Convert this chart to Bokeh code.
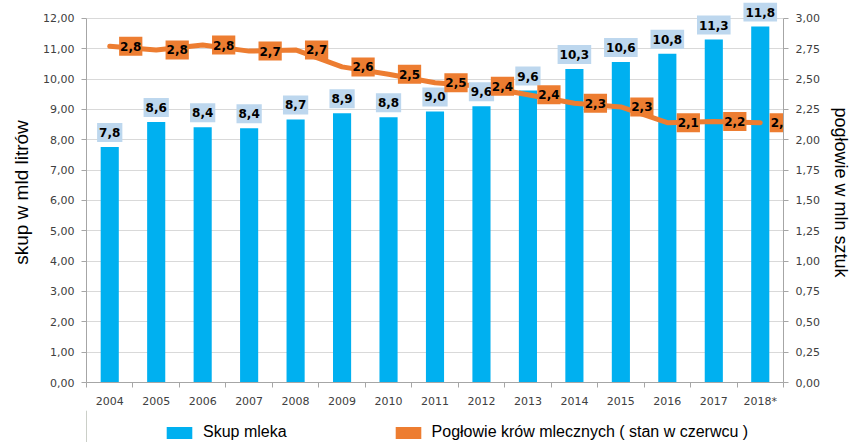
from bokeh.plotting import figure
from bokeh.layouts import column
from bokeh.models import (ColumnDataSource, Range1d, LinearAxis, FixedTicker,
                          CustomJSTickFormatter, Legend, LegendItem)
from bokeh.core.properties import value
from bokeh.embed import file_html
from bokeh.resources import INLINE

years = [2004, 2005, 2006, 2007, 2008, 2009, 2010, 2011, 2012, 2013, 2014, 2015, 2016, 2017, 2018]
year_labels = ["2004", "2005", "2006", "2007", "2008", "2009", "2010", "2011", "2012", "2013",
               "2014", "2015", "2016", "2017", "2018*"]
milk = [7.76, 8.58, 8.41, 8.38, 8.67, 8.87, 8.74, 8.93, 9.10, 9.62, 10.33, 10.56, 10.83, 11.30, 11.73]
milk_labels = ["7,8", "8,6", "8,4", "8,4", "8,7", "8,9", "8,8", "9,0", "9,6", "9,6",
               "10,3", "10,6", "10,8", "11,3", "11,8"]
cows = [2.77, 2.74, 2.78, 2.73, 2.74, 2.60, 2.54, 2.47, 2.44, 2.37, 2.30, 2.27, 2.14, 2.15, 2.14]
cow_labels = ["2,8", "2,8", "2,8", "2,7", "2,7", "2,6", "2,5", "2,5", "2,4", "2,4",
              "2,3", "2,3", "2,1", "2,2", "2,1"]
series_names = ["Skup mleka", "Pogłowie krów mlecznych ( stan w czerwcu )"]

BLUE = "#00B0F0"
ORANGE = "#ED7D31"
LBLUE = "#BDD7EE"
GRID = "#D9D9D9"
AXC = "#A6A6A6"
TXT = "#404040"

# frame spans 384 px; axis max (12 / 3) sits 16 px below the frame top
Y_END = 12 * 384 / 368
C_END = 3 * 384 / 368

src = ColumnDataSource(dict(x=years, milk=milk, milk_lab=milk_labels, cows=cows, cow_lab=cow_labels))

p = figure(width=853, height=410, output_backend="svg", toolbar_location=None,
           x_range=Range1d(2003.5, 2018.5), y_range=Range1d(0, Y_END),
           min_border_left=86, min_border_right=70, min_border_top=2, min_border_bottom=24)
p.extra_y_ranges = {"cows": Range1d(0, C_END)}
p.outline_line_color = None
p.background_fill_color = "white"

fmt = CustomJSTickFormatter(code="return tick.toFixed(2).replace('.', ',');")

# left axis
ya = p.yaxis[0]
ya.ticker = FixedTicker(ticks=list(range(0, 13)))
ya.bounds = (0, 12)
ya.formatter = fmt
ya.axis_label = "skup w mld litrów"
ya.axis_label_text_font = "Liberation Sans"
ya.axis_label_text_font_size = "19px"
ya.axis_label_text_font_style = "normal"
ya.axis_label_text_color = "black"
ya.axis_label_standoff = 8
ya.major_label_text_font = "DejaVu Sans"
ya.major_label_text_font_size = "11px"
ya.major_label_text_color = TXT
ya.major_label_standoff = 7
ya.axis_line_color = AXC
ya.major_tick_line_color = AXC
ya.major_tick_out = 5
ya.major_tick_in = 0
ya.minor_tick_line_color = None

# right axis
ra = LinearAxis(y_range_name="cows", ticker=FixedTicker(ticks=[i * 0.25 for i in range(13)]),
                formatter=fmt, axis_label="pogłowie w mln sztuk", bounds=(0, 3))
ra.axis_label_text_font = "Liberation Sans"
ra.axis_label_text_font_size = "18px"
ra.axis_label_text_font_style = "normal"
ra.axis_label_text_color = "black"
ra.axis_label_standoff = 8
ra.major_label_text_font = "DejaVu Sans"
ra.major_label_text_font_size = "11px"
ra.major_label_text_color = TXT
ra.major_label_standoff = 7
ra.axis_line_color = AXC
ra.major_tick_line_color = AXC
ra.major_tick_out = 5
ra.major_tick_in = 0
ra.minor_tick_line_color = None
p.add_layout(ra, "right")

# bottom axis
xa = p.xaxis[0]
xa.ticker = FixedTicker(ticks=years, minor_ticks=[y + 0.5 for y in [years[0] - 1] + years])
xa.major_label_overrides = {y: l for y, l in zip(years, year_labels)}
xa.major_label_text_font = "DejaVu Sans"
xa.major_label_text_font_size = "11px"
xa.major_label_text_color = TXT
xa.major_label_standoff = 6
xa.axis_line_color = AXC
xa.major_tick_line_color = None
xa.minor_tick_line_color = AXC
xa.minor_tick_out = 5
xa.minor_tick_in = 0

p.xgrid.visible = False
p.ygrid.grid_line_color = GRID
p.ygrid.grid_line_width = 1

bars = p.vbar(x="x", top="milk", width=0.39, source=src, fill_color=BLUE, line_color=None)
line = p.line(x="x", y="cows", source=src, y_range_name="cows", line_color=ORANGE,
              line_width=5, line_join="round", line_cap="round")

p.text(x="x", y="milk", text="milk_lab", source=src, text_align="center",
       text_baseline="bottom", y_offset=-5, text_font=value("DejaVu Sans"),
       text_font_style="bold", text_font_size="12px", text_color="black",
       background_fill_color=LBLUE, padding=(2, 5))

p.text(x="x", y="cows", y_range_name="cows", text="cow_lab", source=src,
       text_align="center", text_baseline="middle", x_offset=21,
       text_font=value("DejaVu Sans"), text_font_style="bold", text_font_size="12px",
       text_color="black", background_fill_color=ORANGE, padding=(1, 5))

# legend strip
p2 = figure(width=853, height=32, output_backend="svg", toolbar_location=None,
            x_range=Range1d(0, 1), y_range=Range1d(0, 1), min_border=0)
p2.axis.visible = False
p2.grid.visible = False
p2.outline_line_color = None
off = ColumnDataSource(dict(x=[-10], top=[1]))
lb = p2.vbar(x="x", top="top", width=0.5, source=off, fill_color=BLUE, line_color=None)
lo = p2.vbar(x="x", top="top", width=0.5, source=off, fill_color=ORANGE, line_color=None)
legend = Legend(items=[LegendItem(label=series_names[0], renderers=[lb]),
                       LegendItem(label=series_names[1], renderers=[lo])],
                orientation="horizontal", location=(77, 1), glyph_width=32, glyph_height=15,
                label_text_font="Liberation Sans", label_text_font_size="16px",
                label_text_color="black", label_standoff=8, spacing=105,
                border_line_color=None, background_fill_alpha=0, padding=0, margin=0)
p2.add_layout(legend)

open("out.html", "w").write(file_html(column(p, p2), INLINE))
